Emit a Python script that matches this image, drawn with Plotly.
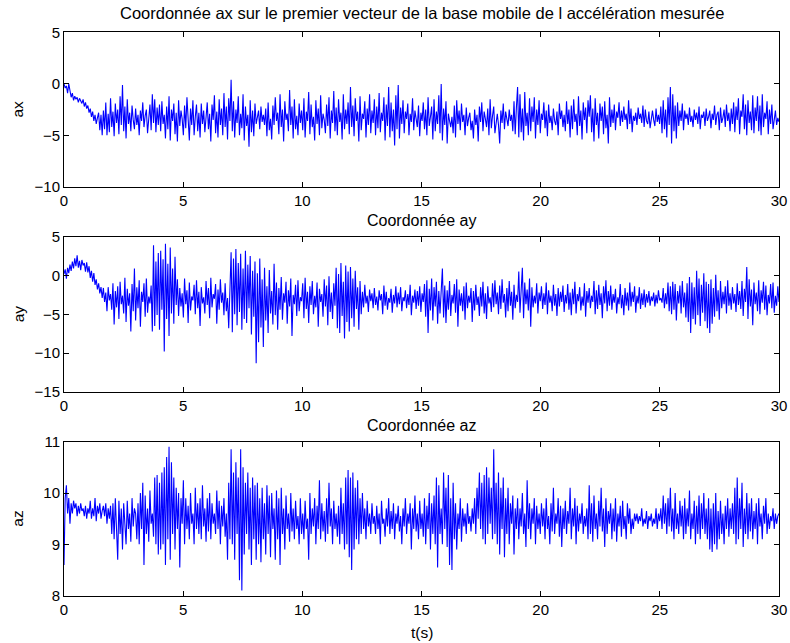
import numpy as np
import plotly.graph_objects as go

# Measured acceleration components in the moving frame, 20 samples per second over 30 s
ax_vals = [
    0.0, -0.4, -0.2, -0.9, 0.0, -0.7, -1.3, -0.9, -1.6, -1.2, -1.5, -1.3, -1.8, -1.4, -1.7, -1.9, -1.5, -2.2, -1.8, -2.4,
    -2.1, -2.8, -2.4, -3.2, -2.7, -3.6, -3.0, -3.9, -3.3, -2.8, -4.5, -3.0, -5.0, -2.6, -4.4, -1.8, -5.0, -2.9, -4.7, -1.4,
    -4.2, -2.7, -5.1, -1.9, -3.8, -2.5, -4.9, -1.2, -4.0, -0.1, -4.6, -2.2, -5.3, -1.5, -3.9, -2.8, -4.6, -2.1, -3.5, -4.4,
    -2.4, -4.0, -3.0, -5.0, -2.6, -3.6, -1.8, -4.2, -3.1, -2.5, -4.8, -3.3, -2.0, -4.5, -1.0, -3.8, -1.5, -4.7, -2.3, -4.0,
    -2.0, -4.6, -1.7, -3.9, -3.0, -5.3, -2.2, -4.4, -1.2, -5.5, -2.5, -3.6, -1.9, -4.9, -2.8, -5.6, -1.6, -4.1, -2.6, -3.4,
    -5.0, -2.1, -4.3, -1.3, -3.7, -5.5, -2.4, -4.0, -1.6, -5.0, -3.2, -2.0, -4.6, -2.8, -5.2, -1.9, -3.9, -2.6, -4.7, -3.1,
    -1.8, -4.4, -2.9, -5.6, -2.0, -3.5, -1.1, -4.8, -2.7, -5.2, -1.5, -4.0, -2.4, -5.0, -0.9, -4.2, -2.2, -5.4, -1.4, -3.6,
    0.4, -4.6, -1.7, -5.2, -2.5, -3.8, -1.2, -5.0, -2.9, -4.3, -1.0, -5.5, -2.2, -4.1, -3.0, -6.1, -1.6, -4.7, -2.6, -5.1,
    -1.9, -3.9, -3.2, -2.6, -4.4, -2.2, -3.7, -3.0, -4.0, -2.4, -5.1, -1.8, -4.5, -3.4, -5.4, -2.1, -4.0, -1.3, -3.6, -2.8,
    -4.9, -1.0, -4.2, -2.5, -5.6, -1.7, -3.5, -2.9, -4.6, -0.6, -4.0, -2.2, -5.3, -1.5, -4.4, -3.1, -5.0, -1.9, -3.8, -2.6,
    -4.5, -1.4, -5.2, -2.7, -3.6, -0.8, -4.9, -2.0, -4.2, -3.2, -5.5, -1.6, -3.9, -2.4, -5.0, -1.1, -4.3, -2.9, -3.5, -4.8,
    -2.0, -4.1, -1.3, -5.3, -2.6, -3.8, -0.7, -4.6, -2.3, -5.0, -1.5, -3.7, -2.8, -5.4, -1.0, -4.4, -2.5, -3.9, -1.8, -4.9,
    -0.3, -4.2, -2.1, -5.1, -1.4, -3.6, -2.7, -5.6, -1.2, -4.5, -2.9, -3.4, -1.7, -5.2, -2.4, -4.0, -1.0, -4.8, -2.6, -3.8,
    -1.5, -5.0, -2.2, -4.3, -0.9, -4.7, -2.8, -3.6, -1.3, -5.5, -2.0, -4.1, -0.3, -5.2, -1.8, -4.6, -2.5, -6.0, -1.1, -4.4,
    -0.1, -5.3, -2.3, -3.9, -1.6, -4.8, -2.7, -3.4, -1.9, -5.0, -2.9, -3.7, -1.4, -4.5, -2.6, -3.3, -4.2, -2.1, -5.1, -2.8,
    -3.6, -1.8, -4.4, -2.5, -5.0, -1.3, -4.1, -3.2, -2.2, -5.4, -1.5, -4.6, -2.7, -3.9, -1.1, -4.8, 0.0, -5.5, -2.4, -4.0,
    -1.7, -5.8, -2.9, -3.6, -4.2, -3.2, -4.8, -2.1, -5.2, -1.6, -3.9, -2.6, -4.5, -1.9, -3.7, -3.0, -5.0, -2.3, -4.1, -3.3,
    -2.8, -4.5, -3.6, -5.3, -2.5, -4.0, -3.0, -5.6, -2.2, -3.7, -1.8, -4.6, -2.7, -3.4, -4.2, -2.4, -5.0, -1.5, -4.3, -3.1,
    -2.2, -4.8, -3.5, -2.9, -4.0, -5.8, -2.6, -3.8, -1.9, -4.4, -2.7, -3.3, -4.1, -2.5, -3.6, -3.0, -4.6, -1.7, -4.9, -2.3,
    -0.3, -5.2, -1.0, -4.7, -2.4, -5.5, -0.8, -4.1, -2.8, -5.0, -1.4, -4.6, -2.2, -3.7, -1.3, -5.3, -2.5, -4.0, -1.6, -4.8,
    -2.9, -3.5, -1.8, -4.3, -2.6, -5.1, -2.0, -3.8, -3.1, -4.5, -2.4, -3.6, -4.0, -2.7, -5.0, -1.9, -3.4, -2.6, -4.2, -3.0,
    -4.6, -1.7, -3.9, -2.5, -5.2, -2.1, -4.4, -1.5, -3.7, -2.9, -5.0, -1.2, -4.1, -2.6, -5.4, -1.8, -3.5, -2.3, -4.8, -1.6,
    -3.2, -1.1, -4.7, -2.4, -5.6, -1.4, -4.0, -2.8, -5.3, -1.9, -3.6, -2.2, -4.9, -1.7, -4.3, -3.0, -5.8, -1.3, -4.2, -2.5,
    -3.8, -2.0, -4.5, -2.7, -3.3, -1.8, -4.1, -2.6, -3.7, -2.2, -3.5, -2.9, -4.4, -1.6, -3.9, -2.4, -4.7, -3.1, -3.6, -2.8,
    -4.0, -2.3, -3.4, -2.9, -3.8, -2.1, -4.2, -2.5, -3.6, -3.9, -2.7, -4.3, -3.1, -2.6, -3.5, -4.1, -2.4, -3.7, -3.0, -3.9,
    -2.2, -4.8, -1.6, -4.4, -2.5, -5.2, -1.3, -4.0, -0.3, -5.8, -1.0, -4.6, -2.1, -5.3, -1.8, -4.1, -2.6, -3.6, -1.9, -4.5,
    -2.6, -3.4, -2.9, -4.0, -2.3, -3.7, -3.1, -4.2, -2.5, -3.5, -2.8, -3.9, -2.2, -4.4, -3.0, -3.3, -2.7, -4.1, -2.4, -3.6,
    -3.2, -2.6, -4.3, -2.9, -3.5, -2.1, -4.0, -3.0, -2.7, -4.5, -2.3, -3.8, -3.3, -2.5, -4.2, -2.0, -3.6, -2.8, -4.6, -2.4,
    -3.9, -1.8, -4.7, -2.2, -3.5, -1.4, -4.9, -2.6, -3.2, -1.0, -4.4, -2.0, -5.0, -1.6, -3.8, -2.7, -4.5, -1.1, -4.8, -2.3,
    -3.6, -1.2, -4.6, -2.1, -5.0, -1.0, -4.2, -2.8, -3.4, -1.7, -4.9, -2.5, -3.9, -2.0, -4.4, -3.1, -2.6, -4.0, -3.3, -3.7,
]

ay_vals = [
    0.2, 0.8, -0.4, 1.0, 0.3, 1.4, 0.6, 1.8, 0.9, 2.2, 1.2, 2.6, 1.0, 1.9, 0.7, 2.0, 1.3, 1.6, 0.5, 1.7,
    0.4, 1.2, -0.3, 0.6, -0.8, 0.3, -1.2, -0.5, -1.8, -1.0, -2.3, -1.5, -2.9, -1.6, -3.4, -2.2, -4.6, -1.5, -3.2, -2.4,
    -4.4, -1.0, -6.3, -2.0, -4.1, -1.4, -5.6, -0.8, -3.7, -2.6, -4.9, -0.3, -6.0, -1.7, -3.9, -2.3, -7.2, -1.1, -4.6, 0.9,
    -5.8, -1.5, -4.2, -0.6, -6.6, -2.1, -3.4, -1.0, -5.3, -0.4, -4.8, -2.7, -3.6, -1.3, -7.2, 3.9, -6.5, 1.8, -5.1, 2.9,
    -7.0, 3.2, -4.4, 2.1, -9.8, 4.1, -5.6, 1.5, -7.8, 3.6, -4.9, 0.9, -6.2, 2.4, -3.8, -0.5, -5.2, -1.6, -4.0, -2.3,
    -5.4, -0.4, -3.7, -1.9, -6.1, -0.9, -4.5, -2.7, -3.2, -1.2, -5.0, -0.6, -4.2, -2.1, -6.5, -1.5, -3.6, -2.8, -4.9, -0.7,
    -3.8, -1.6, -5.5, -0.3, -4.1, -2.4, -3.0, -1.1, -6.2, -1.8, -4.4, -0.5, -3.5, -2.2, -5.1, -1.0, -4.6, -2.9, -6.8, -0.8,
    3.0, -7.3, 2.2, -5.0, 3.4, -6.4, 1.6, -4.7, 2.8, -7.0, 0.9, -5.6, 3.2, -6.1, 1.4, -4.2, 2.5, -7.6, 0.6, -5.3,
    1.8, -11.3, 0.3, -8.6, 2.2, -6.7, -0.5, -9.2, 1.0, -5.8, -1.4, -7.4, 0.7, -4.9, -2.0, -6.3, 1.5, -5.1, -0.9, -7.0,
    -1.6, -4.4, -0.2, -5.7, -2.3, -3.5, -0.8, -6.2, -1.9, -4.0, -0.4, -7.8, -2.5, -3.7, -1.2, -5.2, -0.6, -4.6, -2.8, -3.3,
    -1.0, -5.5, -0.3, -4.3, -2.1, -6.1, -1.4, -3.8, -0.7, -5.0, -2.6, -4.1, -0.9, -6.6, -1.7, -3.4, -2.4, -5.3, -0.5, -4.0,
    -1.3, -6.4, -0.1, -4.7, -2.2, -5.6, -1.0, -3.9, 1.0, -6.8, 0.2, -7.4, 1.6, -5.2, -0.8, -8.1, 1.3, -6.0, 0.5, -7.2,
    1.1, -5.5, -0.4, -6.6, 0.6, -4.3, -1.5, -7.0, -0.7, -5.0, -2.1, -4.1, -1.2, -3.6, -2.6, -4.7, -1.8, -3.3, -2.3, -4.2,
    -1.6, -3.8, -2.7, -4.5, -1.9, -3.2, -2.4, -5.0, -1.3, -3.9, -2.1, -4.4, -2.9, -3.5, -1.7, -4.8, -2.5, -3.6, -1.4, -4.1,
    -2.2, -3.7, -1.5, -4.6, -2.8, -3.3, -1.9, -4.2, -2.4, -3.8, -1.2, -5.1, -2.6, -3.5, -1.8, -4.3, -2.0, -3.9, -1.4, -4.7,
    -2.3, -3.4, -1.1, -5.3, -0.6, -7.4, -1.7, -4.5, -0.4, -5.8, -1.5, -4.0, -0.8, -6.2, -2.0, -4.9, -1.0, 0.9, -5.4, -1.3,
    -6.1, -1.9, -4.4, -0.7, -5.2, -2.5, -3.6, -1.1, -4.8, -0.5, -6.6, -1.8, -3.9, -2.3, -4.6, -1.4, -5.7, -0.9, -4.2, -2.6,
    -3.5, -1.6, -6.0, -2.0, -4.5, -1.2, -3.8, -2.7, -5.2, -1.5, -4.0, -0.8, -4.9, -2.3, -5.6, -1.4, -3.6, -2.8, -4.7, -1.0,
    -4.1, -0.6, -3.7, -2.2, -5.0, -1.3, -4.3, -0.5, -3.5, -2.4, -5.4, -1.6, -4.6, -0.7, -3.9, -2.1, -5.7, -1.2, -4.2, -2.5,
    -3.4, 0.5, -4.8, -1.1, 1.0, -5.5, -0.9, -3.7, -1.8, -4.5, -0.4, -6.6, -1.5, -4.1, -2.6, -3.6, -1.0, -4.9, -2.2, -3.3,
    -1.4, -4.3, -2.3, -3.8, -0.9, -5.0, -1.9, -3.5, -2.6, -4.6, -1.2, -3.9, -2.4, -5.2, -1.6, -4.0, -2.1, -3.4, -1.3, -4.7,
    -2.5, -3.6, -1.1, -4.4, -2.2, -5.1, -1.7, -3.7, -0.8, -4.9, -2.4, -3.3, -1.5, -4.5, -2.7, -3.9, -1.0, -5.3, -2.0, -3.5,
    -1.6, -4.2, -2.6, -3.4, -0.7, -5.0, -1.9, -4.3, -1.2, -3.8, -2.3, -5.5, -1.4, -3.6, -0.6, -4.6, -2.0, -3.9, -1.3, -4.4,
    -2.4, -3.5, -1.7, -4.9, -2.8, -3.7, -1.1, -4.2, -2.5, -5.1, -1.6, -3.9, -2.2, -4.5, -0.9, -4.0, -2.1, -3.4, -1.4, -4.8,
    -2.6, -3.6, -1.5, -4.3, -2.3, -3.8, -1.8, -4.1, -2.4, -3.5, -2.0, -3.9, -2.7, -3.3, -2.2, -4.0, -2.5, -3.6, -1.9, -3.2,
    -2.9, -3.5, -1.6, -4.2, -2.3, -3.7, -0.9, -4.6, -1.4, -5.0, -0.8, -4.4, -1.1, -5.8, -2.0, -3.6, -1.3, -4.9, -0.7, -4.1,
    -2.2, -5.4, -1.0, -6.0, -0.2, -7.4, -0.9, -5.6, -1.5, -6.3, 0.6, -5.1, -0.4, -6.5, -1.2, -4.8, 0.3, -5.9, -0.8, -6.8,
    -1.1, -7.4, -0.5, -6.2, -1.6, -5.3, 0.1, -4.6, -1.9, -5.7, -0.7, -4.2, -2.1, -3.7, -1.4, -4.9, -0.6, -3.9, -2.3, -4.4,
    -1.5, -3.6, -2.4, -4.7, -1.0, -3.8, -2.0, -4.3, -0.7, -5.2, -1.7, -3.4, 1.1, -5.6, -0.5, -4.0, -1.8, -6.4, -0.9, -3.7,
    -2.2, -4.6, -0.6, -5.0, -1.9, -3.5, -0.8, -4.4, -1.3, -5.1, -2.5, -3.6, -1.1, -4.2, -0.9, -4.8, -2.6, -3.9, -1.4, -3.4,
]

az_vals = [
    8.6, 9.9, 10.15, 9.6, 9.9, 9.4, 9.8, 9.6, 9.85, 9.7, 9.8, 9.55, 9.75, 9.6, 9.8, 9.65, 9.7, 9.55, 9.75, 9.5,
    9.7, 9.6, 9.85, 9.5, 9.7, 9.55, 9.9, 9.45, 9.75, 9.6, 9.8, 9.5, 9.65, 9.75, 9.55, 9.8, 9.4, 9.7, 9.5, 9.75,
    9.2, 9.8, 9.1, 9.9, 9.3, 8.7, 9.85, 9.2, 9.7, 8.9, 9.8, 9.4, 9.0, 9.85, 9.3, 9.6, 9.05, 9.9, 9.35, 9.7,
    9.6, 9.1, 9.8, 9.0, 10.0, 9.3, 10.2, 8.6, 9.95, 9.2, 9.7, 9.05, 10.05, 9.4, 9.6, 9.15, 10.3, 9.0, 10.35, 8.8,
    10.2, 8.9, 10.4, 9.0, 10.5, 8.6, 10.7, 9.1, 10.9, 8.7, 10.6, 9.2, 10.3, 8.9, 10.1, 9.3, 10.0, 8.55, 9.9, 9.4,
    10.25, 9.0, 9.9, 9.3, 9.75, 9.1, 10.0, 9.4, 9.6, 9.0, 10.1, 9.3, 9.8, 9.2, 9.9, 9.1, 10.15, 9.35, 9.7, 9.05,
    9.9, 9.25, 10.0, 9.1, 9.8, 9.4, 9.6, 9.2, 10.05, 9.3, 9.85, 9.0, 9.75, 9.35, 9.9, 9.15, 9.6, 8.7, 10.2, 9.1,
    10.85, 9.0, 10.4, 8.7, 10.6, 9.2, 10.3, 8.3, 10.85, 8.1, 10.5, 8.8, 10.2, 9.2, 10.4, 8.9, 10.1, 8.6, 10.3, 9.1,
    10.15, 8.7, 10.2, 9.0, 9.9, 8.65, 10.1, 9.1, 9.8, 8.8, 10.15, 9.2, 9.95, 8.75, 10.0, 9.3, 9.7, 8.7, 10.05, 9.1,
    9.9, 8.6, 10.1, 9.2, 9.7, 8.9, 9.95, 9.3, 9.6, 9.05, 10.0, 9.25, 9.7, 9.1, 9.85, 9.3, 9.55, 9.0, 9.9, 9.2,
    9.6, 9.1, 9.85, 9.3, 9.5, 8.7, 10.0, 9.2, 9.7, 9.35, 9.9, 9.0, 9.75, 9.3, 10.25, 9.1, 9.8, 9.25, 9.65, 9.05,
    9.9, 9.2, 10.2, 9.35, 9.7, 9.0, 9.85, 9.3, 9.6, 9.15, 9.75, 9.0, 10.1, 9.2, 9.8, 8.9, 10.3, 9.0, 10.45, 8.75,
    10.3, 8.5, 10.4, 8.9, 10.1, 9.1, 10.25, 9.0, 9.9, 9.2, 10.0, 9.3, 9.7, 9.1, 9.85, 9.35, 9.6, 9.2, 9.8, 9.4,
    9.55, 9.2, 9.75, 9.3, 9.6, 9.0, 9.85, 9.4, 9.5, 9.15, 9.7, 9.35, 9.9, 9.2, 9.65, 9.3, 9.8, 9.1, 9.6, 9.4,
    9.75, 9.25, 9.55, 9.0, 9.7, 9.35, 9.9, 9.2, 9.6, 9.4, 9.8, 8.9, 9.7, 9.3, 9.95, 9.25, 9.6, 9.1, 9.85, 9.3,
    9.6, 9.15, 9.9, 9.0, 9.75, 9.3, 10.0, 8.9, 9.8, 9.2, 9.95, 9.0, 10.3, 8.55, 10.15, 9.2, 9.7, 9.0, 10.4, 9.3,
    10.1, 8.95, 10.35, 8.6, 9.9, 8.5, 10.2, 9.1, 9.8, 8.9, 9.6, 9.3, 9.9, 9.05, 9.7, 9.35, 9.6, 9.2, 9.8, 9.4,
    9.55, 9.25, 9.7, 9.4, 9.9, 9.2, 10.1, 9.5, 10.4, 9.3, 10.2, 9.1, 10.35, 9.0, 10.5, 9.2, 10.3, 9.4, 10.1, 9.1,
    10.85, 9.2, 10.2, 9.0, 10.4, 8.8, 10.1, 9.3, 10.3, 8.75, 9.9, 9.2, 10.1, 9.0, 9.8, 9.4, 9.95, 8.8, 9.7, 9.3,
    9.9, 9.1, 9.7, 9.35, 10.0, 9.2, 9.6, 8.95, 10.25, 9.3, 9.8, 9.1, 9.7, 9.4, 9.9, 9.0, 9.75, 9.3, 9.6, 9.2,
    9.8, 9.35, 9.7, 9.1, 9.9, 9.3, 9.55, 9.0, 9.8, 9.25, 10.1, 9.2, 9.6, 9.4, 9.9, 9.15, 9.75, 8.95, 9.7, 9.3,
    9.85, 9.2, 9.65, 9.4, 10.1, 9.1, 9.7, 9.35, 9.9, 9.0, 9.75, 9.25, 9.6, 9.4, 9.8, 9.2, 9.55, 9.35, 9.7, 9.1,
    10.15, 9.2, 9.8, 9.05, 9.95, 9.3, 9.6, 9.1, 9.85, 9.35, 10.1, 9.25, 9.7, 8.95, 9.9, 9.2, 9.65, 9.4, 9.8, 9.1,
    9.7, 9.25, 9.9, 9.05, 9.6, 9.35, 9.75, 9.15, 9.85, 9.3, 9.55, 9.1, 9.8, 9.4, 9.7, 9.2, 9.5, 9.3, 9.6, 9.45,
    9.6, 9.4, 9.55, 9.45, 9.7, 9.35, 9.5, 9.4, 9.65, 9.3, 9.55, 9.45, 9.6, 9.35, 9.5, 9.4, 9.7, 9.3, 9.6, 9.45,
    9.7, 9.3, 9.95, 9.4, 9.8, 9.2, 9.9, 9.35, 10.1, 9.25, 9.7, 9.1, 10.0, 9.3, 9.6, 9.2, 9.85, 9.35, 9.75, 9.1,
    9.9, 9.2, 9.7, 9.35, 10.05, 9.1, 9.6, 9.3, 9.85, 9.0, 9.75, 9.2, 9.95, 9.1, 9.8, 9.3, 10.0, 9.2, 9.7, 9.1,
    9.9, 8.9, 9.7, 8.85, 9.8, 9.0, 10.0, 8.9, 9.65, 9.1, 9.85, 9.2, 9.6, 9.0, 9.75, 9.3, 9.9, 9.15, 9.7, 9.3,
    9.8, 9.2, 10.1, 9.0, 10.3, 9.1, 9.9, 9.3, 10.2, 8.95, 9.7, 9.2, 10.0, 9.1, 9.8, 9.25, 9.9, 9.1, 9.65, 9.3,
    9.8, 9.0, 9.9, 9.35, 9.6, 9.1, 9.75, 9.4, 9.9, 9.2, 9.6, 9.3, 9.55, 9.45, 9.7, 9.3, 9.6, 9.4, 9.55, 9.6,
]

t_end = 30.0
x_ticks = [0, 5, 10, 15, 20, 25, 30]

panels = [
    # (values, y label, y range, y ticks, y domain)
    (ax_vals, "ax", [-10, 5], [-10, -5, 0, 5], [0.7096, 0.9495]),
    (ay_vals, "ay", [-15, 5], [-15, -10, -5, 0, 5], [0.3904, 0.6319]),
    (az_vals, "az", [8, 11], [8, 9, 10, 11], [0.0736, 0.3131]),
]

FONT = "Liberation Sans, Arial, Helvetica, sans-serif"
TICK_SIZE = 15
LABEL_SIZE = 15.5
x_dom = [64 / 790, 779 / 790]

fig = go.Figure()
layout = dict(
    template="none",
    width=790, height=643,
    margin=dict(l=0, r=0, t=0, b=0, pad=0, autoexpand=False),
    paper_bgcolor="white", plot_bgcolor="white",
    showlegend=False,
    font=dict(family=FONT, size=TICK_SIZE, color="black"),
)

annotations = []
for i, (vals, lab, yr, yt, ydom) in enumerate(panels, start=1):
    vals = np.asarray(vals, dtype=float)
    t = np.linspace(0, t_end, len(vals))
    sfx = "" if i == 1 else str(i)
    fig.add_trace(go.Scatter(
        x=t, y=vals, mode="lines",
        line=dict(color="#0000ff", width=1.1),
        xaxis="x" + sfx, yaxis="y" + sfx,
        hoverinfo="skip",
    ))
    axis_common = dict(
        showline=True, linecolor="black", linewidth=1, mirror="ticks",
        ticks="inside", ticklen=5, tickcolor="black", tickwidth=1,
        showgrid=False, zeroline=False, automargin=False,
        tickfont=dict(family=FONT, size=TICK_SIZE, color="black"),
    )
    layout["xaxis" + sfx] = dict(
        axis_common, domain=x_dom, range=[0, t_end],
        tickvals=x_ticks, anchor="y" + sfx,
    )
    layout["yaxis" + sfx] = dict(
        axis_common, domain=ydom, range=yr,
        tickvals=yt, anchor="x" + sfx,
    )
    annotations.append(dict(
        text=lab, xref="paper", yref="paper",
        x=18 / 790, y=(ydom[0] + ydom[1]) / 2,
        textangle=-90, showarrow=False,
        xanchor="center", yanchor="middle",
        font=dict(family=FONT, size=LABEL_SIZE, color="black"),
    ))

x_mid = (x_dom[0] + x_dom[1]) / 2
for txt, ypx, size in [
    ("Coordonnée ax sur le premier vecteur de la base mobile de l accélération mesurée", 13, 16.5),
    ("Coordonnée ay", 221, 16),
    ("Coordonnée az", 425, 16),
    ("t(s)", 632, 15.5),
]:
    annotations.append(dict(
        text=txt, xref="paper", yref="paper",
        x=x_mid, y=1 - ypx / 643, showarrow=False,
        xanchor="center", yanchor="middle",
        font=dict(family=FONT, size=size, color="black"),
    ))

layout["annotations"] = annotations
fig.update_layout(**layout)
fig.write_html("out.html")
